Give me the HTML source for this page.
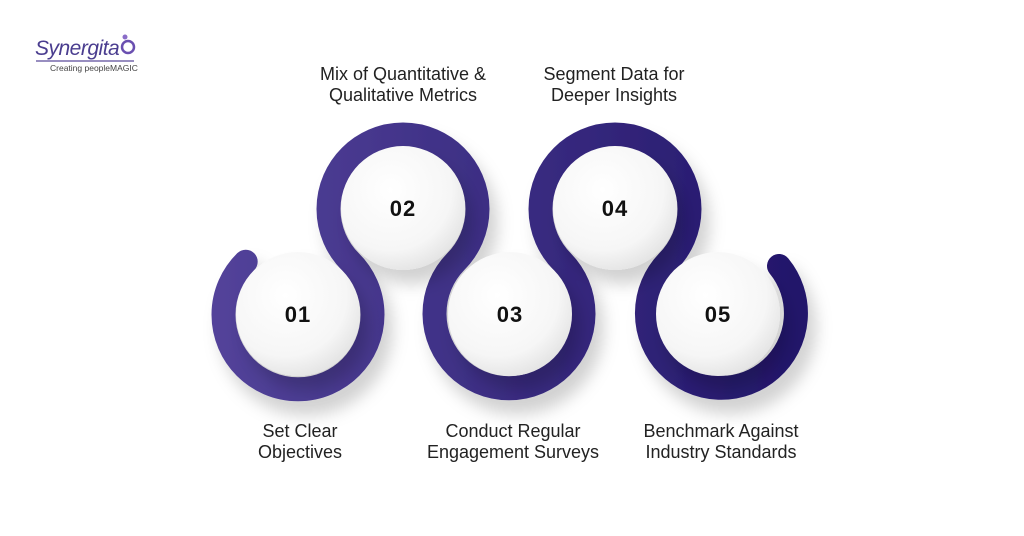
<!DOCTYPE html>
<html><head><style>
body{margin:0;width:1024px;height:536px;background:#fff;overflow:hidden;font-family:"Liberation Sans",sans-serif;position:relative}
.l{position:absolute;font-size:18px;color:#222;text-align:center;line-height:21px;width:260px}
</style></head><body>
<svg width="1024" height="536" style="position:absolute;left:0;top:0">
<defs>
<linearGradient id="g" x1="212" y1="0" x2="806" y2="0" gradientUnits="userSpaceOnUse">
<stop offset="0" stop-color="#53439a"/><stop offset="1" stop-color="#22166a"/></linearGradient>
<radialGradient id="w" cx="0.4" cy="0.35" r="0.7"><stop offset="0" stop-color="#fff"/><stop offset="0.7" stop-color="#f6f6f6"/><stop offset="1" stop-color="#e2e2e2"/></radialGradient>
<filter id="s" x="-50%" y="-50%" width="200%" height="200%"><feDropShadow dx="8" dy="14" stdDeviation="8" flood-color="#000" flood-opacity="0.18"/></filter>
</defs>
<path d="M245.7 261.7 A74.5 74.5 0 1 0 350.3 261.7 A74.5 74.5 0 1 1 455.7 261.7 A74.5 74.5 0 1 0 562.3 261.7 A74.5 74.5 0 1 1 667.7 261.7 A74.5 74.5 0 1 0 779 266" fill="none" stroke="url(#g)" stroke-width="24" stroke-linecap="round" filter="url(#s)"/>
<g filter="url(#s)">
<circle cx="298" cy="314" r="62" fill="url(#w)"/>
<circle cx="403" cy="208" r="62" fill="url(#w)"/>
<circle cx="510" cy="314" r="62" fill="url(#w)"/>
<circle cx="615" cy="208" r="62" fill="url(#w)"/>
<circle cx="718" cy="314" r="62" fill="url(#w)"/>
</g>
<g font-family="Liberation Sans, sans-serif" font-weight="bold" font-size="22" fill="#111" text-anchor="middle" letter-spacing="1">
<text x="298" y="322">01</text><text x="403" y="216">02</text><text x="510" y="322">03</text><text x="615" y="216">04</text><text x="718" y="322">05</text>
</g>
<text x="35" y="55" font-family="Liberation Sans, sans-serif" font-style="italic" font-size="21" letter-spacing="-0.5" fill="#4a3d8f">Synergita</text>
<circle cx="128" cy="47" r="6" fill="none" stroke="#6a4fb0" stroke-width="2.5"/>
<circle cx="125" cy="37" r="2.5" fill="#8a6cc8"/>
<line x1="36" y1="61" x2="134" y2="61" stroke="#5a4a9a" stroke-width="1.2"/>
<text x="50" y="71" font-family="Liberation Sans, sans-serif" font-size="8.5" fill="#444">Creating peopleMAGIC</text>
</svg>
<div class="l" style="left:273px;top:64px">Mix of Quantitative &amp;<br>Qualitative Metrics</div>
<div class="l" style="left:484px;top:64px">Segment Data for<br>Deeper Insights</div>
<div class="l" style="left:170px;top:421px">Set Clear<br>Objectives</div>
<div class="l" style="left:383px;top:421px">Conduct Regular<br>Engagement Surveys</div>
<div class="l" style="left:591px;top:421px">Benchmark Against<br>Industry Standards</div>
</body></html>
